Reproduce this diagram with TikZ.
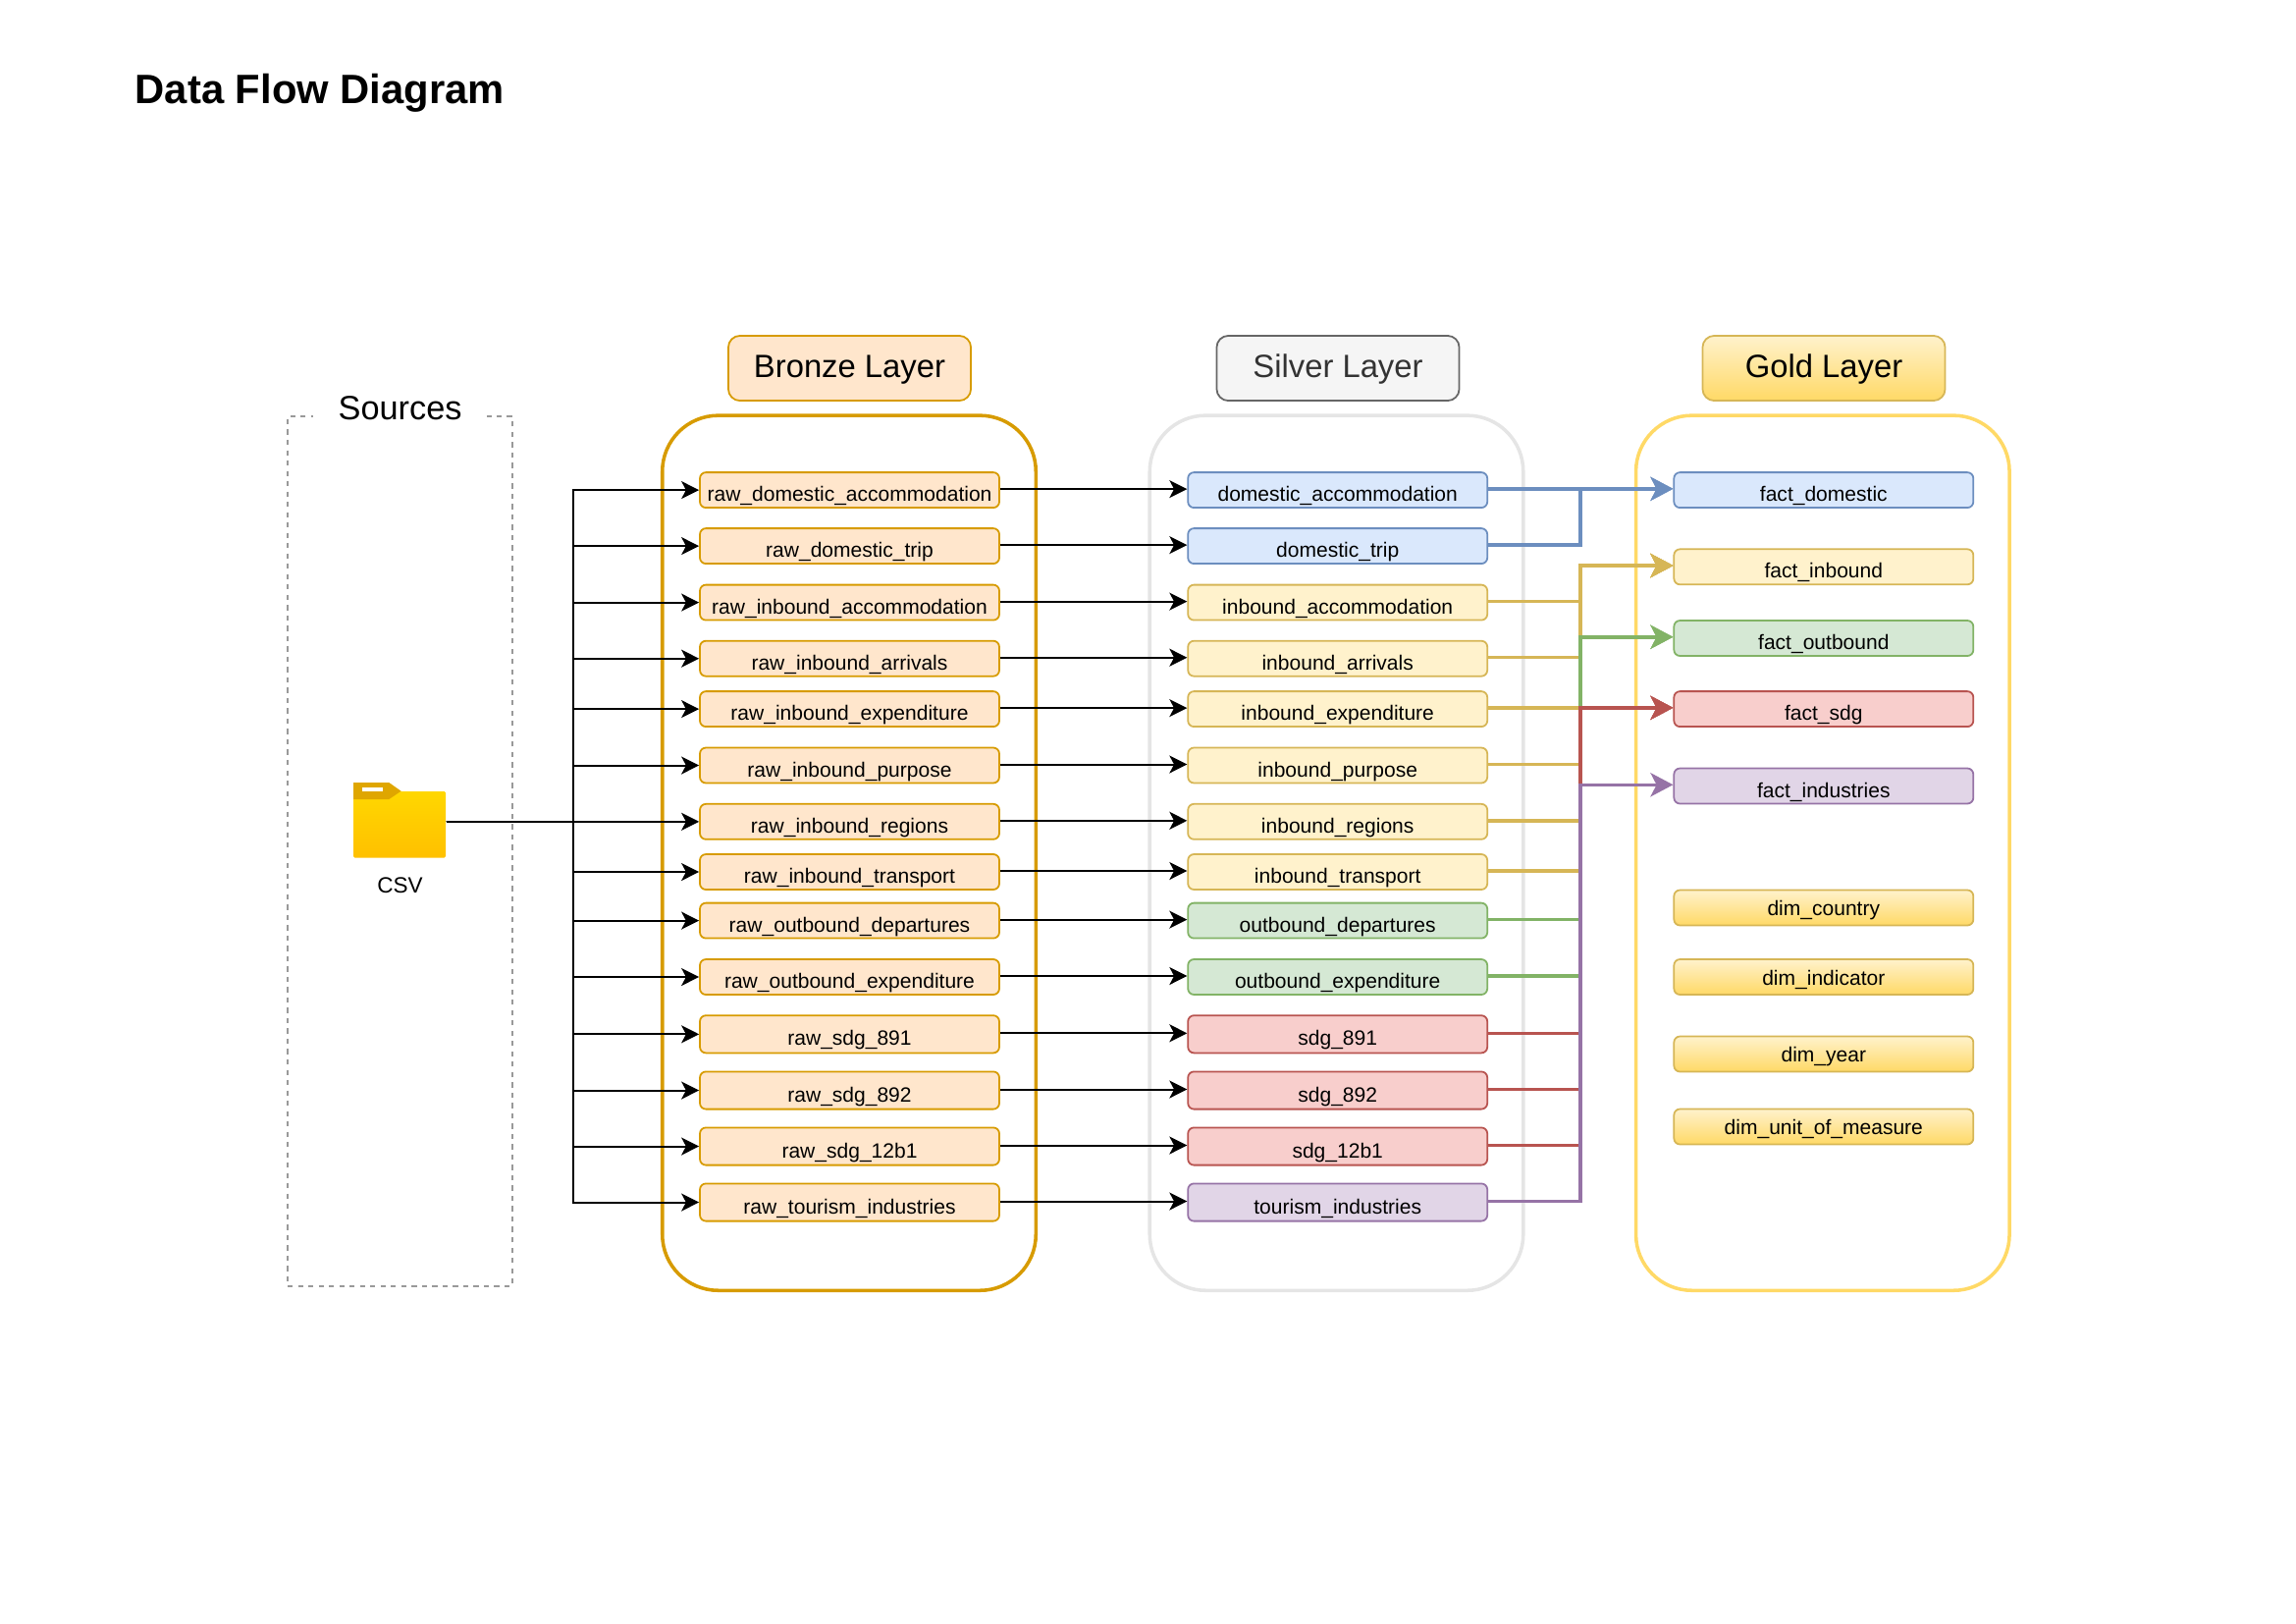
\documentclass[tikz,border=0pt]{standalone}
\usepackage{fontspec}
\setmainfont{Liberation Sans}
\usetikzlibrary{arrows.meta}

\definecolor{bronzeF}{HTML}{FFE6CC}
\definecolor{bronzeD}{HTML}{D79B00}
\definecolor{blueF}{HTML}{DAE8FC}
\definecolor{blueD}{HTML}{6C8EBF}
\definecolor{yellowF}{HTML}{FFF2CC}
\definecolor{yellowD}{HTML}{D6B656}
\definecolor{greenF}{HTML}{D5E8D4}
\definecolor{greenD}{HTML}{82B366}
\definecolor{redF}{HTML}{F8CECC}
\definecolor{redD}{HTML}{B85450}
\definecolor{purpleF}{HTML}{E1D5E7}
\definecolor{purpleD}{HTML}{9673A6}
\definecolor{goldD}{HTML}{FFD966}
\definecolor{folderY}{HTML}{FFD700}
\definecolor{folderO}{HTML}{FFC000}
\definecolor{folderT}{HTML}{DFA600}

\tikzset{
  >={Stealth[length=6.5pt,width=6.5pt,inset=1.7pt]},
  tablebox/.style={rectangle, rounded corners=2.2pt, line width=.64pt, inner sep=0pt,
    minimum width=110.2pt, minimum height=13pt, text height=8.3pt, text depth=0pt,
    font=\fontsize{7.6}{9}\selectfont},
  rawbox/.style={tablebox, fill=bronzeF, draw=bronzeD},
  bluebox/.style={tablebox, fill=blueF, draw=blueD},
  yellowbox/.style={tablebox, fill=yellowF, draw=yellowD},
  greenbox/.style={tablebox, fill=greenF, draw=greenD},
  redbox/.style={tablebox, fill=redF, draw=redD},
  purplebox/.style={tablebox, fill=purpleF, draw=purpleD},
  dimbox/.style={tablebox, top color=yellowF, bottom color=goldD, draw=yellowD, text height=5.8pt},
  layerframe/.style={rectangle, rounded corners=20.6pt, line width=1.28pt,
    minimum width=137.5pt, minimum height=322pt},
  layertitle/.style={rectangle, rounded corners=4.3pt, line width=.64pt,
    minimum width=89.3pt, minimum height=23.9pt, text height=7.1pt, text depth=0pt,
    font=\fontsize{11.85}{14}\selectfont},
  rawflow/.style={->, line width=.72pt},
  goldflow/.style={->, draw=#1, line width=1.28pt, >={Stealth[length=8.3pt,width=8.7pt,inset=2.2pt]}},
}

\begin{document}
\begin{tikzpicture}[x=0.36135pt,y=-0.36135pt]
\useasboundingbox (0,0) rectangle (2339,1653);

\node[anchor=base west, font=\fontsize{15.1}{18}\selectfont\bfseries] (title) at (128,105) {Data Flow Diagram};

% Sources
\node[rectangle, draw=black!40, dash pattern=on 1.9pt off 1.9pt, line width=.64pt,
  minimum width=82.7pt, minimum height=320pt] (srcframe) at (407.5,867) {};
\node[fill=white, inner sep=0pt, minimum width=64pt, font=\fontsize{12.4}{14}\selectfont] (srctitle) at (407.6,415.5) {Sources};

% Folder
\node[inner sep=0pt, minimum width=34pt, minimum height=27.7pt] (csv) at (407,836.8) {};
\shade[top color=folderY, bottom color=folderO, rounded corners=.5pt] (360,806) rectangle (454,873.6);
\fill[folderT] (360,797) -- (396.3,797) -- (408.6,805.7) -- (396.3,814) -- (360,814) -- cycle;
\fill[white] (368.8,802) rectangle (390.2,805.6);
\node[font=\fontsize{8.15}{10}\selectfont, inner sep=0pt] (csvlabel) at (407.6,902) {CSV};

% Layer frames
\node[layerframe, draw=bronzeD] (bronzeframe) at (865,868.7) {};
\node[layerframe, draw=black!10] (silverframe) at (1361.5,868.7) {};
\node[layerframe, draw=goldD] (goldframe) at (1856.8,868.7) {};

\node[layertitle, fill=bronzeF, draw=bronzeD] (bronzetitle) at (865.5,375) {Bronze Layer};
\node[layertitle, fill=black!4, draw=black!60, text=black!80] (silvertitle) at (1363,375) {Silver Layer};
\node[layertitle, top color=yellowF, bottom color=goldD, draw=yellowD] (goldtitle) at (1858,375) {Gold Layer};

% Gold tables
\foreach \nid/\ypos/\lbl/\kind in {factdom/499.1/fact\_domestic/bluebox,
    factinb/577.3/fact\_inbound/yellowbox, factout/650/fact\_outbound/greenbox,
    factsdg/722.1/fact\_sdg/redbox, factind/800.5/fact\_industries/purplebox,
    dimcou/924.5/dim\_country/dimbox, dimind/995/dim\_indicator/dimbox,
    dimyea/1073.5/dim\_year/dimbox, dimuni/1147.5/dim\_unit\_of\_measure/dimbox} {
  \node[\kind] (\nid) at (1857.8,\ypos) {\lbl};
  \coordinate (\nid tip) at ([yshift=.45pt]\nid.west);
}

\coordinate (rawbus) at (584,0);
\coordinate (goldbus) at (1610,0);

% Bronze and silver tables
\foreach \nid/\ypos/\hgt/\lbl/\kind in {domacc/499.1/13/domestic\_accommodation/bluebox,
    domtri/556.1/13/domestic\_trip/bluebox, inbacc/613.6/13/inbound\_accommodation/yellowbox,
    inbarr/670.7/13/inbound\_arrivals/yellowbox, inbexp/722.1/13/inbound\_expenditure/yellowbox,
    inbpur/779.5/13/inbound\_purpose/yellowbox, inbreg/836.8/13/inbound\_regions/yellowbox,
    inbtra/888/13/inbound\_transport/yellowbox, outdep/937.6/13/outbound\_departures/greenbox,
    outexp/995/13/outbound\_expenditure/greenbox, sdgone/1053.3/13.8/sdg\_891/redbox,
    sdgtwo/1110.5/13.8/sdg\_892/redbox, sdgtbo/1167.5/13.8/sdg\_12b1/redbox,
    touind/1224.5/13.8/tourism\_industries/purplebox} {
  \node[rawbox, minimum height=\hgt pt] (raw\nid) at (865.5,\ypos) {raw\_\lbl};
  \node[\kind, minimum height=\hgt pt] (slv\nid) at (1362.7,\ypos) {\lbl};
  \coordinate (slv\nid tip) at ([yshift=.36pt]slv\nid.west);
  \coordinate (slv\nid out) at ([yshift=.36pt]slv\nid.east);
  \draw[rawflow] (csv.east) -| (rawbus |- raw\nid.west) -- (raw\nid.west);
  \draw[rawflow] (raw\nid.east |- slv\nid tip) -- (slv\nid tip);
}

% Silver to gold
\foreach \nid/\fid/\col in {domacc/factdom/blueD, domtri/factdom/blueD,
    inbacc/factinb/yellowD, inbarr/factinb/yellowD, inbexp/factinb/yellowD,
    inbpur/factinb/yellowD, inbreg/factinb/yellowD, inbtra/factinb/yellowD,
    outdep/factout/greenD, outexp/factout/greenD,
    sdgone/factsdg/redD, sdgtwo/factsdg/redD, sdgtbo/factsdg/redD,
    touind/factind/purpleD} {
  \draw[goldflow=\col] (slv\nid out) -| (goldbus |- \fid tip) -- (\fid tip);
}

\end{tikzpicture}
\end{document}
